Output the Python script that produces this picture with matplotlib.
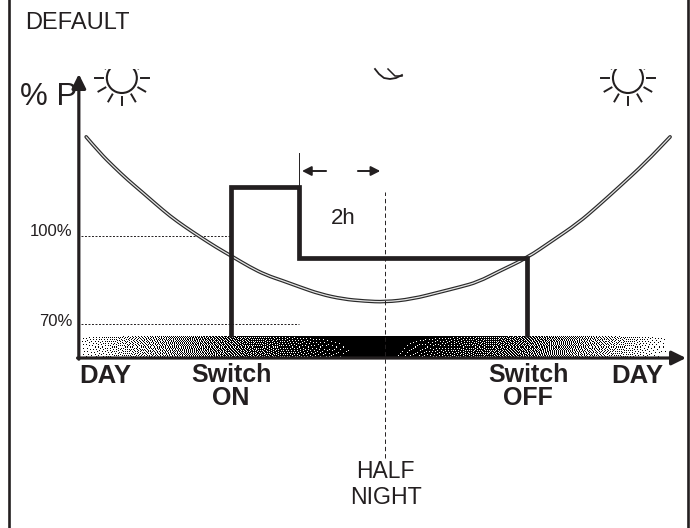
import numpy as np
import matplotlib
matplotlib.use("Agg")
import matplotlib.pyplot as plt
from matplotlib.patches import Rectangle, Arc, PathPatch
from matplotlib.path import Path

plt.rcParams['font.family'] = ['Liberation Sans', 'DejaVu Sans']
INK = '#231f20'

# Data: x in hours from half night, y in % power
curve_hours = [-6.95,-6.63,-6.30,-5.98,-5.65,-5.33,-5.00,-4.65,-4.30,-3.93,-3.53,-3.14,-2.77,-2.37,-1.98,-1.51,-0.98,-0.47,0,
               0.63,1.28,1.74,2.16,2.67,3.30,3.88,4.49,4.95,5.42,6.05,6.63]
curve_pct = [133.8,128.3,123.5,119.1,115.0,110.9,106.8,103.1,99.7,96.2,92.8,89.4,86.7,84.7,82.6,80.2,78.5,77.8,77.5,
             78.5,80.9,82.6,84.3,88.1,92.5,98.3,104.4,110.2,116.4,124.9,133.8]
power_hours = [-3.58,-3.58,-2.0,-2.0,3.30,3.30]
power_pct = [65.6,116.7,116.7,92.5,92.5,65.6]
band_hours = [-7.09,-5.5,-3.6,-1.0,-0.7,0.0,0.4,3.3,5.0,6.56]
band_dark = [0.08,0.36,0.66,0.95,1.0,1.0,0.96,0.64,0.36,0.06]
ref_pct = [100,70]
ref_labels = ['100%','70%']
ref_end_hours = [-3.58,-2.0]
ref_label_py = [231,322]
sun_hours = [-6.12,5.65]

PXX, PXY = 43.0, 2.933
X0, Y0 = -7.12, 58.4
fig = plt.figure(figsize=(6.9,5.28), dpi=100)
ax = fig.add_axes([0,0,1,1])
ax.axis('off')

# night band, dithered by error diffusion
w, h = 587, 21
xs = np.linspace(band_hours[0], band_hours[-1], w)
grid = np.tile(np.interp(xs, band_hours, band_dark), (h,1))
grid += np.tile(np.linspace(0.03,-0.03,h)[:,None], (1,w))
img = np.zeros((h,w))
for r in range(h):
    for c in range(w):
        v = 1.0 if grid[r,c] > 0.5 else 0.0
        img[r,c] = v
        e = grid[r,c]-v
        if c+1 < w: grid[r,c+1] += e*7/16
        if r+1 < h:
            if c > 0: grid[r+1,c-1] += e*3/16
            grid[r+1,c] += e*5/16
            if c+1 < w: grid[r+1,c+1] += e*1/16
ax.imshow(1-img, extent=[band_hours[0],band_hours[-1],Y0,65.6], aspect='auto',
          cmap='gray', vmin=0, vmax=1, interpolation='nearest', zorder=1)

ax.set_xlim(-385/PXX, (690-385)/PXX)
ax.set_ylim(100+(236-528)/PXY, 100+236/PXY)

# curve (double line), smoothed through midpoints
pts = np.column_stack([curve_hours, curve_pct])
verts = [pts[0]]
codes = [Path.MOVETO]
for i in range(1, len(pts)-1):
    verts += [pts[i], (pts[i]+pts[i+1])/2]
    codes += [Path.CURVE3, Path.CURVE3]
verts.append(pts[-1]); codes.append(Path.LINETO)
smooth = Path(np.array(verts), codes)
ax.add_patch(PathPatch(smooth, fc='none', ec='#2a2a2a', lw=2.6, zorder=2, capstyle='round'))
ax.add_patch(PathPatch(smooth, fc='none', ec='#e4e4e4', lw=0.9, zorder=2.1, capstyle='round'))

# power step
ax.plot(power_hours, power_pct, color=INK, lw=3.4, zorder=3, solid_joinstyle='miter', solid_capstyle='butt')

# reference dotted lines
for p, lab, e, py in zip(ref_pct, ref_labels, ref_end_hours, ref_label_py):
    ax.plot([X0+0.05, e],[p,p], color=INK, lw=0.7, ls=(0,(2,1.6)), zorder=2)
    ax.text(X0-0.14, 100+(236-py)/PXY, lab, ha='right', va='center', fontsize=12, color=INK)

# half-night dashed, 2h marker
ax.plot([0,0],[100+(236-458)/PXY,100+(236-192)/PXY], color=INK, lw=0.7, ls=(0,(4.5,3)), zorder=4)
ax.plot([-2,-2],[116.7,100+(236-153)/PXY], color=INK, lw=0.7, zorder=4)
y2h = 100+(236-171)/PXY
ax.annotate('', xy=(-1.93,y2h), xytext=(-1.37,y2h),
            arrowprops=dict(arrowstyle='-|>,head_length=0.55,head_width=0.28', color=INK, lw=1.4, shrinkA=0, shrinkB=0))
ax.annotate('', xy=(-0.11,y2h), xytext=(-0.63,y2h),
            arrowprops=dict(arrowstyle='-|>,head_length=0.55,head_width=0.28', color=INK, lw=1.4, shrinkA=0, shrinkB=0))

# axes with arrows
ax.annotate('', xy=(X0,100+(236-74)/PXY), xytext=(X0,Y0-0.4),
            arrowprops=dict(arrowstyle='-|>,head_length=0.85,head_width=0.42', color=INK, lw=2.3,
                            shrinkA=0, shrinkB=0), zorder=5)
ax.annotate('', xy=((686-385)/PXX,Y0), xytext=(X0-0.03,Y0),
            arrowprops=dict(arrowstyle='-|>,head_length=0.85,head_width=0.42', color=INK, lw=2.3,
                            shrinkA=0, shrinkB=0), zorder=5)

# frame
for px in (9, 688):
    ax.axvline((px-385)/PXX, color=INK, lw=1.9, zorder=6)

# suns, clipped at top
clip_top = 100+(236-69)/PXY
sun_y = 100+(236-78)/PXY
for sx in sun_hours:
    clip = Rectangle((-10,0), 20, clip_top, transform=ax.transData)
    arc = Arc((sx,sun_y), 30/PXX, 30/PXY, color=INK, lw=1.5, zorder=3)
    ax.add_patch(arc); arc.set_clip_path(clip)
    for a in [0,30,150,180,210,240,270,300,330]:
        c, s = np.cos(np.radians(a)), np.sin(np.radians(a))
        l, = ax.plot([sx+19*c/PXX, sx+27*c/PXX],[sun_y+19*s/PXY, sun_y+27*s/PXY], color=INK, lw=1.4, zorder=3)
        l.set_clip_path(clip)

# moon
moon_x = (np.array([375,379,384,390,396,402])-385)/PXX
moon_y = 100+(236-np.array([69,74,78,79,78,75]))/PXY
ax.plot(moon_x, moon_y, color=INK, lw=1.3, zorder=3)
moon2_x = (np.array([388,392,395,402])-385)/PXX
moon2_y = 100+(236-np.array([69,73,76,76]))/PXY
ax.plot(moon2_x, moon2_y, color=INK, lw=1.1, zorder=3)

def t(px, py, s, va='center', **kw):
    ax.text((px-385)/PXX, 100+(236-py)/PXY, s, color=INK, va=va, **kw)

t(25, 23, 'DEFAULT', ha='left', fontsize=17)
t(20, 97, '% P', ha='left', fontsize=22.5)
t(343, 218, '2h', ha='center', fontsize=16)
t(385, 471, 'HALF', ha='center', fontsize=16.5)
t(386, 498, 'NIGHT', ha='center', fontsize=16.7)
t(79, 383, 'DAY', va='baseline', ha='left', fontsize=18.5, fontweight='bold')
t(231, 382, 'Switch', va='baseline', ha='center', fontsize=18, fontweight='bold')
t(231, 405, 'ON', va='baseline', ha='center', fontsize=18, fontweight='bold')
t(528, 382, 'Switch', va='baseline', ha='center', fontsize=18, fontweight='bold')
t(528, 405, 'OFF', va='baseline', ha='center', fontsize=18, fontweight='bold')
t(611, 383, 'DAY', va='baseline', ha='left', fontsize=18.5, fontweight='bold')

fig.savefig('out.png', dpi=100)
